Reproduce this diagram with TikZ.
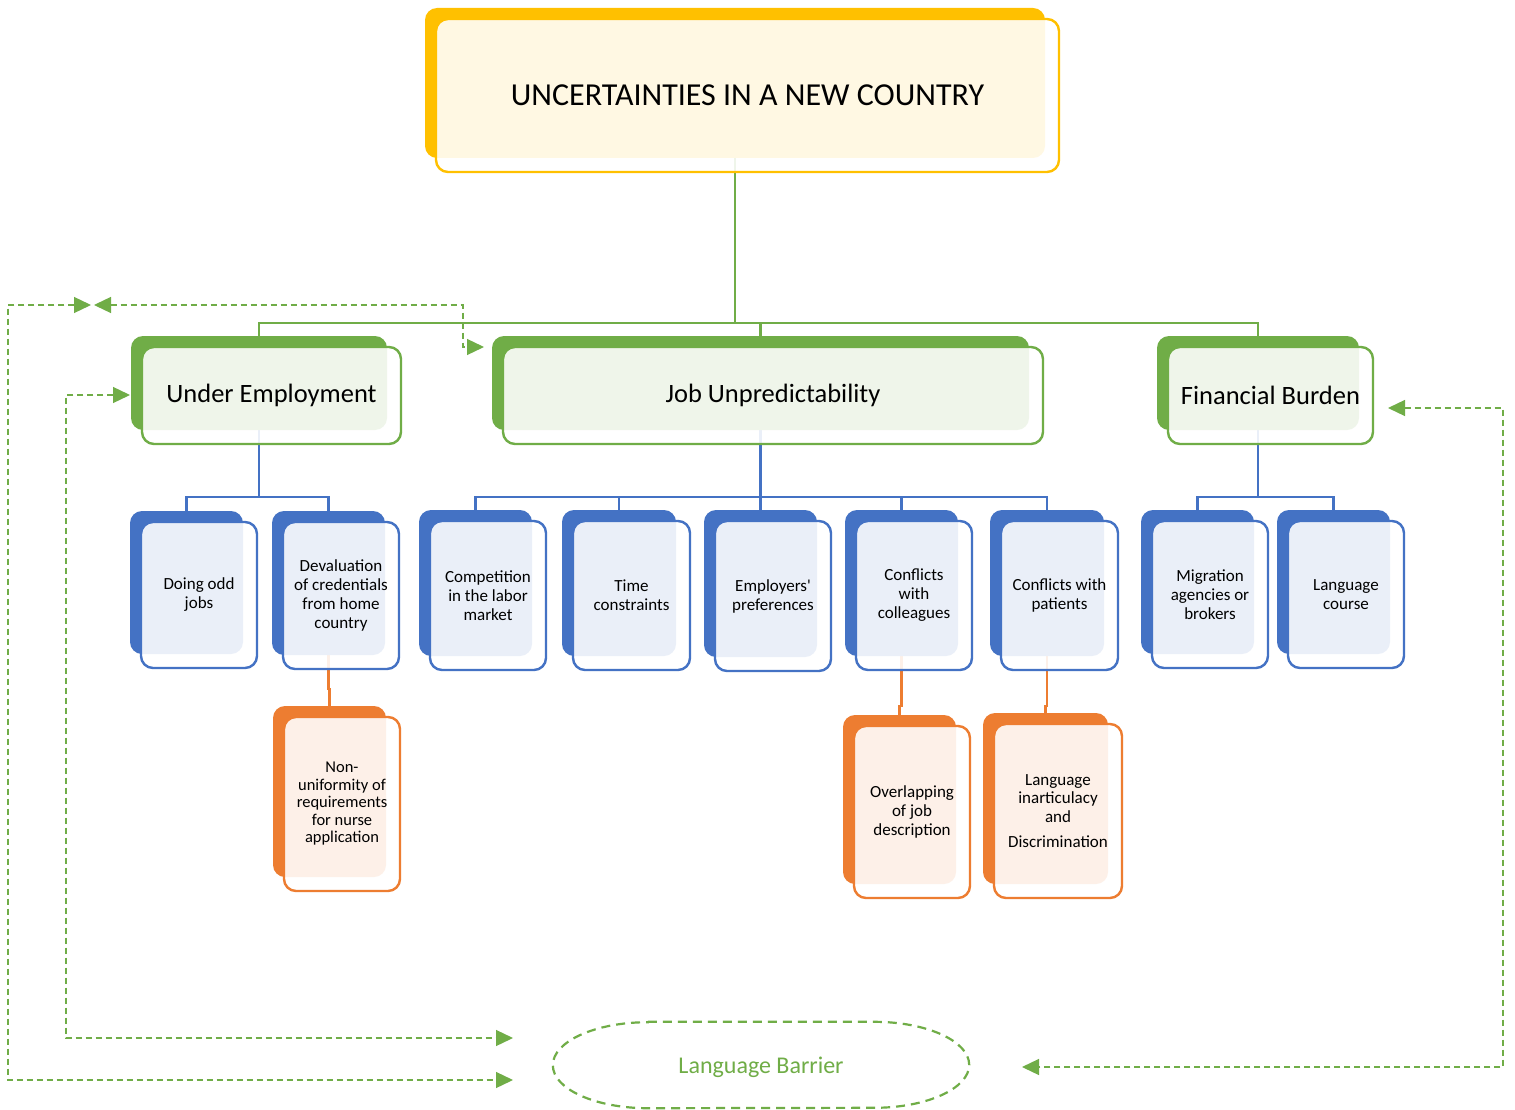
\documentclass[tikz,border=0pt]{standalone}
\usepackage{fontspec}
\setmainfont{Carlito}
\usetikzlibrary{arrows.meta,fit,calc}
\definecolor{cgreen}{HTML}{70AD47}
\definecolor{cblue}{HTML}{4472C4}
\definecolor{corange}{HTML}{ED7D31}
\definecolor{cyellow}{HTML}{FFC000}
\pgfdeclarelayer{bg}
\pgfsetlayers{bg,main}
\newcommand{\mkbox}[8]{% name,x0,y0,x1,y1,colour,font,text
  \path (#2,#3) coordinate (#1-a) (#4,#5) coordinate (#1-b);
  \node[fit=(#1-a)(#1-b), inner sep=0pt, fill=#6, rounded corners=12pt] (#1) {};
  \draw[#6, line width=2.4pt, fill=white, fill opacity=0.89, rounded corners=12pt]
     ($(#1-a)+(11,11)$) rectangle ($(#1-b)+(14,14)$);
  \node[boxtext, font=#7] (#1-t) at ($(#1-a)!0.5!(#1-b)+(12.5,12.5)$) {#8};
}
\tikzset{
  boxtext/.style={align=center, inner sep=0pt, text=black},
  conn/.style={line width=2.5pt},
  dasharrow/.style={cgreen, line width=1.3pt, dash pattern=on 6pt off 4pt,
     {Triangle[length=17pt,width=16pt]}-{Triangle[length=17pt,width=16pt]}},
}
\newcommand{\fsbig}{\fontsize{32}{36}\selectfont}
\newcommand{\fsmid}{\fontsize{26.5}{30}\selectfont}
\newcommand{\fssm}{\fontsize{17}{19}\selectfont}
\newcommand{\fsor}{\fontsize{16.5}{17.5}\selectfont}
\begin{document}
\begin{tikzpicture}[x=1pt,y=-1pt]
\useasboundingbox (0,0) rectangle (1515,1110);
\begin{pgfonlayer}{bg}
\fill[white] (0,0) rectangle (1515,1110);
\end{pgfonlayer}

% boxes
\mkbox{top}{425}{8}{1045}{158}{cyellow}{\fsbig}{UNCERTAINTIES IN A NEW COUNTRY}
\mkbox{ue}{131}{336}{387}{430}{cgreen}{\fsmid}{Under Employment}
\mkbox{job}{492}{336}{1029}{430}{cgreen}{\fsmid}{Job Unpredictability}
\mkbox{fb}{1157}{336}{1359}{430}{cgreen}{\fsmid}{Financial Burden}

\mkbox{odd}{130}{511}{243}{654}{cblue}{\fssm}{Doing odd\\jobs}
\mkbox{deval}{272}{511}{385}{655}{cblue}{\fssm}{Devaluation\\of credentials\\from home\\country}
\mkbox{comp}{419}{510}{532}{656}{cblue}{\fssm}{Competition\\in the labor\\market}
\mkbox{time}{562}{510}{676}{656}{cblue}{\fssm}{Time\\constraints}
\mkbox{empl}{704}{510}{817}{657}{cblue}{\fssm}{Employers\textquotesingle\\preferences}
\mkbox{coll}{845}{510}{958}{656}{cblue}{\fssm}{Conflicts\\with\\colleagues}
\mkbox{pat}{990}{510}{1104}{656}{cblue}{\fssm}{Conflicts with\\patients}
\mkbox{mig}{1141}{510}{1254}{654}{cblue}{\fssm}{Migration\\agencies or\\brokers}
\mkbox{lang}{1277}{510}{1390}{654}{cblue}{\fssm}{Language\\course}

\mkbox{nonu}{273}{706}{386}{877}{corange}{\fsor}{Non-\\uniformity of\\requirements\\for nurse\\application}
\mkbox{overl}{843}{715}{956}{884}{corange}{\fssm}{Overlapping\\of job\\description}
\mkbox{inart}{983}{713}{1108}{884}{corange}{\fontsize{17}{18.5}\selectfont}{Language\\inarticulacy\\and\\[7pt]Discrimination}

% language barrier
\node[minimum width=416pt, minimum height=86pt, inner sep=0pt] (lb) at (761,1065) {};
\draw[cgreen, line width=2.2pt, dash pattern=on 9pt off 6pt]
  ($(lb.north west)+(95,0)$) -- ($(lb.north east)+(-95,0)$)
  arc[start angle=-90, end angle=90, x radius=95, y radius=43]
  -- ($(lb.south west)+(95,0)$)
  arc[start angle=90, end angle=270, x radius=95, y radius=43] -- cycle;
\node[text=cgreen, inner sep=0pt, font=\fontsize{24}{28}\selectfont] (lb-t) at (761,1067) {Language Barrier};

% connectors
\coordinate (busg) at (0,323);
\coordinate (busb) at (0,497);
\begin{pgfonlayer}{bg}
\draw[conn, cgreen] (top.south) -- (top.south |- busg) -| (ue.north);
\draw[conn, cgreen] (top.south |- busg) -| (job.north);
\draw[conn, cgreen] (top.south |- busg) -| (fb.north);

\draw[conn, cblue] (ue.south) -- (ue.south |- busb) -| (odd.north);
\draw[conn, cblue] (ue.south |- busb) -| (deval.north);
\draw[conn, cblue] (job.south) -- (job.south |- busb) -| (comp.north);
\draw[conn, cblue] (job.south |- busb) -| (time.north);
\draw[conn, cblue] (job.south |- busb) -| (empl.north);
\draw[conn, cblue] (job.south |- busb) -| (coll.north);
\draw[conn, cblue] (job.south |- busb) -| (pat.north);
\draw[conn, cblue] (fb.south) -- (fb.south |- busb) -| (mig.north);
\draw[conn, cblue] (fb.south |- busb) -| (lang.north);

\draw[conn, corange] (deval.south) -- ++(0,34) -| (nonu.north);
\draw[conn, corange] (coll.south) -- ++(0,50) -| (overl.north);
\draw[conn, corange] (pat.south) -- ++(0,50) -| (inart.north);
\end{pgfonlayer}

% dashed arrows
\coordinate (d1s) at (91,305);
\coordinate (d1e) at (513,1080);
\coordinate (d2s) at (94,305);
\coordinate (d2e) at (484,347);
\coordinate (d3s) at (130,395);
\coordinate (d3e) at (513,1038);
\coordinate (d4s) at (1388,408);
\coordinate (d4e) at (1022,1067);
\draw[dasharrow] (d1s) -- (8,305) -- (8,1080) -- (d1e);
\draw[dasharrow] (d2s) -- (463,305) -- (463,347) -- (d2e);
\draw[dasharrow] (d3s) -- (66,395) -- (66,1038) -- (d3e);
\draw[dasharrow] (d4s) -- (1503,408) -- (1503,1067) -- (d4e);
\end{tikzpicture}
\end{document}
